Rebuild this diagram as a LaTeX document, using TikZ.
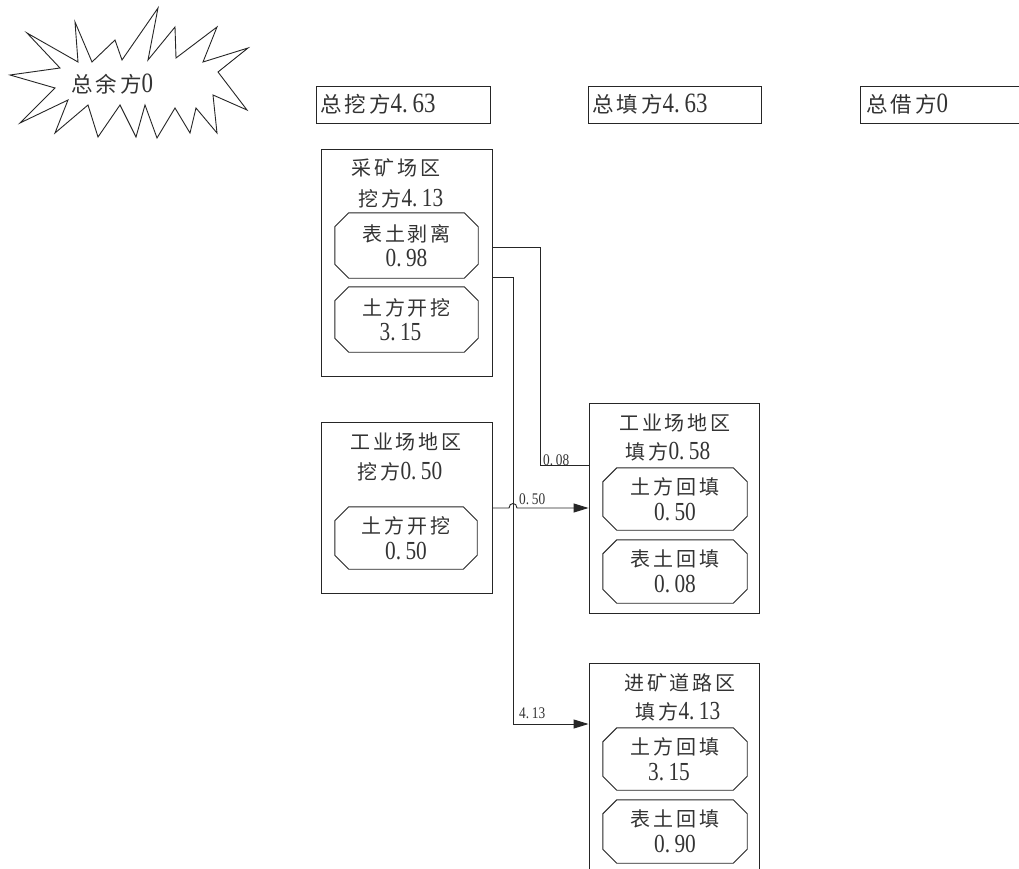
\documentclass[tikz,border=0pt]{standalone}
\usepackage{fontspec}
\setmainfont{Liberation Serif}[FakeStretch=0.82,Scale=1.3]
\newfontfamily\cjk{Noto Sans CJK SC}[LetterSpace=14]
\usetikzlibrary{arrows.meta,calc,fit}
\newcommand\zh[1]{{\cjk #1}}
\newcommand\octbox[6]{%
  \node[fit={(#2,#3) (#4,#5)},inner sep=0pt] (#1) {};
  \draw[ln] ($(#1.north west)+(14,0)$) -- ($(#1.north east)+(-14,0)$) -- ($(#1.north east)+(0,14)$) -- ($(#1.south east)+(0,-14)$) -- ($(#1.south east)+(-14,0)$) -- ($(#1.south west)+(14,0)$) -- ($(#1.south west)+(0,-14)$) -- ($(#1.north west)+(0,14)$) -- cycle;
  \node[txt,align=center] (#1-t) at (#1.center) {#6};
}
\newcommand\rbox[5]{%
  \node[fit={(#2,#3) (#4,#5)},inner sep=0pt,draw,ln] (#1) {};
}
\begin{document}
\begin{tikzpicture}[x=1pt,y=-1pt,
  ln/.style={line width=0.9pt,draw=black!85},
  txt/.style={inner sep=0pt,text=black!80,font=\fontsize{20}{25.5}\selectfont},
  toptxt/.style={inner sep=0pt,text=black!80,anchor=west,font=\fontsize{21.5}{26}\selectfont},
  lbl/.style={inner sep=0pt,text=black!80,font=\fontsize{12.5}{14}\selectfont},
  arr/.style={ln,-{Triangle[length=15pt,width=9pt]}}]
\useasboundingbox (0,0) rectangle (1019,869);
\clip (0,0) rectangle (1019,869);
\fill[white] (0,0) rectangle (1019,869);

% starburst
\draw[ln,line join=miter] (10,75) -- (60,68) -- (27,33) -- (78,62) -- (75,22) -- (92,62) -- (115,40) -- (122,60) -- (158,8) -- (148,60) -- (175,27) -- (176,58) -- (217,27) -- (203,62) -- (248,48) -- (218,72) -- (247,110) -- (213,95) -- (217,133) -- (196,108) -- (190,133) -- (175,108) -- (157,138) -- (145,105) -- (136,137) -- (120,105) -- (98,137) -- (88,105) -- (55,133) -- (68,100) -- (20,123) -- (55,88) -- cycle;
\node[inner sep=0pt,text=black!80,font=\fontsize{21.5}{26}\selectfont] (star) at (112,84) {\zh{总余方}0};

% top boxes
\rbox{TA}{316}{86}{490}{123}
\node[toptxt] (TA-t) at (320,104) {\zh{总挖方}4.\,63};
\rbox{TB}{588}{86}{761}{123}
\node[toptxt] (TB-t) at (592,104) {\zh{总填方}4.\,63};
\rbox{TC}{860}{86}{1030}{123}
\node[toptxt] (TC-t) at (866,104) {\zh{总借方}0};

% 采矿场区
\rbox{M}{321}{149}{492}{376}
\node[txt] (M-h1) at (396,168) {\zh{采矿场区}};
\node[txt] (M-h2) at (401,199) {\zh{挖方}4.\,13};
\octbox{M1}{335}{213}{478}{278}{\zh{表土剥离}\\0.\,98}
\octbox{M2}{335}{287}{478}{352}{\zh{土方开挖}\\\hspace*{-12pt}3.\,15}

% 工业场地区 (挖)
\rbox{G}{321}{422}{492}{593}
\node[txt] (G-h1) at (406,442) {\zh{工业场地区}};
\node[txt] (G-h2) at (400,472) {\zh{挖方}0.\,50};
\octbox{G1}{335}{507}{477}{569}{\zh{土方开挖}\\0.\,50}

% 工业场地区 (填)
\rbox{F}{589}{403}{759}{613}
\node[txt] (F-h1) at (675,423) {\zh{工业场地区}};
\node[txt] (F-h2) at (668,452) {\zh{填方}0.\,58};
\octbox{F1}{603}{468}{747}{530}{\zh{土方回填}\\0.\,50}
\octbox{F2}{603}{540}{747}{603}{\zh{表土回填}\\0.\,08}

% 进矿道路区
\rbox{R}{589}{663}{759}{900}
\node[txt] (R-h1) at (680,683) {\zh{进矿道路区}};
\node[txt] (R-h2) at (678,712) {\zh{填方}4.\,13};
\octbox{R1}{603}{728}{747}{790}{\zh{土方回填}\\\hspace*{-12pt}3.\,15}
\octbox{R2}{603}{800}{747}{863}{\zh{表土回填}\\0.\,90}

% connectors
\coordinate (c1) at (540,247);
\coordinate (c2) at (540,465);
\draw[ln] (M.east |- c1) -- (c1) -- (c2) -- (F.west |- c2);
\node[lbl,anchor=south west] (l008) at (543,466) {0.\,08};

\coordinate (d1) at (513,277);
\coordinate (d2) at (513,724);
\draw[arr] (M.east |- d1) -- (d1) -- (d2) -- (R.west |- d2);
\node[lbl,anchor=south west] (l413) at (519,719) {4.\,13};

\coordinate (h1) at (509,508);
\coordinate (h2) at (517,508);
\draw[arr] (G.east |- h1) -- (h1) .. controls (509,502) and (517,502) .. (h2) -- (F.west |- h2);
\node[lbl,anchor=south west] (l050) at (519,505) {0.\,50};
\end{tikzpicture}
\end{document}
